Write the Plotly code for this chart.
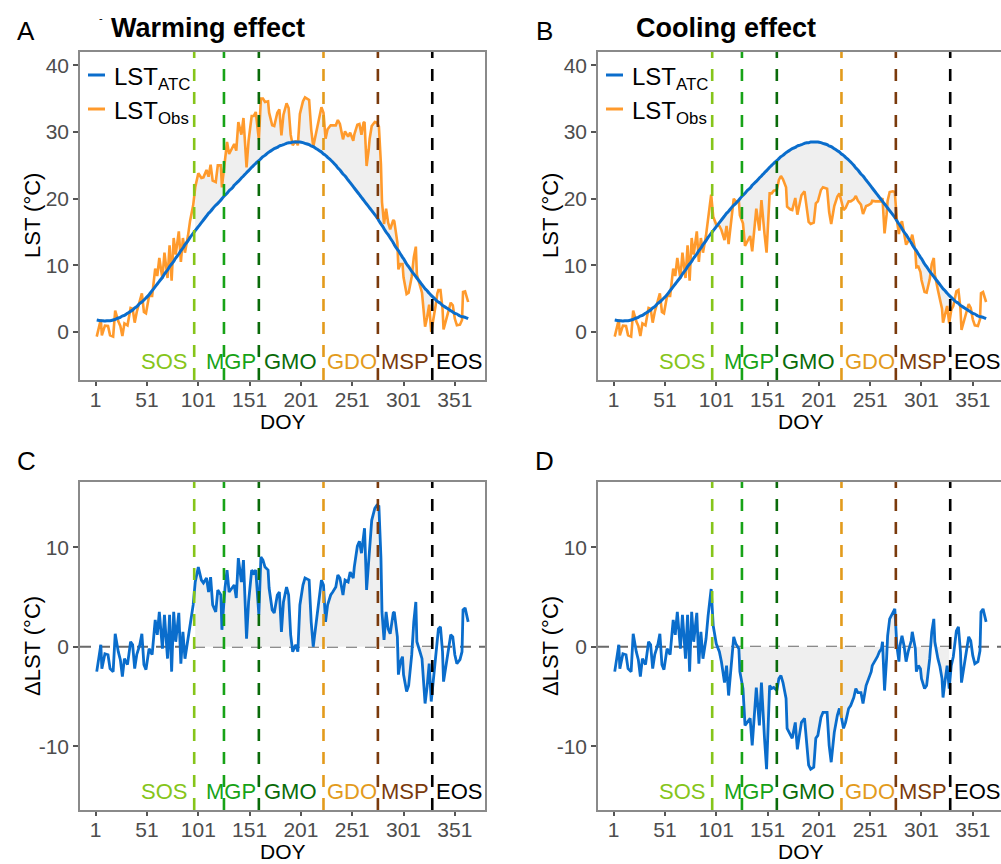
import plotly.graph_objects as go

# ---------------- data ----------------
DOY = [2, 6, 7, 10, 13, 15, 18, 20, 23, 25,
       27, 29, 32, 35, 37, 39, 41, 44, 46, 48,
       50, 53, 56, 59, 61, 63, 66, 68, 71, 73,
       75, 77, 79, 82, 84, 86, 88, 91, 93, 96,
       98, 101, 104, 106, 109, 111, 113, 115, 118, 120,
       123, 124, 127, 129, 131, 134, 136, 138, 140, 143,
       145, 148, 150, 153, 155, 157, 160, 162, 164, 166,
       169, 170, 173, 175, 178, 180, 182, 184, 187, 189,
       191, 193, 196, 198, 200, 203, 205, 209, 211, 213,
       216, 219, 221, 223, 225, 227, 230, 232, 235, 237,
       239, 242, 244, 247, 249, 252, 253, 256, 258, 260,
       262, 263, 265, 267, 268, 270, 273, 275, 277, 279,
       280, 282, 284, 286, 288, 291, 292, 295, 296, 298,
       300, 301, 304, 306, 309, 311, 313, 314, 317, 319,
       321, 322, 324, 326, 328, 330, 332, 334, 335, 337,
       339, 340, 343, 345, 347, 349, 351, 353, 356, 358,
       359, 361, 364]

LST_ATC = [1.8, 1.7, 1.7, 1.65, 1.7, 1.7, 1.8, 1.9, 2.1, 2.2,
           2.4, 2.5, 2.8, 3.1, 3.3, 3.6, 3.8, 4.3, 4.5, 4.8,
           5.1, 5.6, 6.2, 6.8, 7.2, 7.6, 8.2, 8.7, 9.3, 9.8,
           10.2, 10.6, 11.1, 11.7, 12.2, 12.6, 13.1, 13.7, 14.2, 14.8,
           15.2, 15.8, 16.4, 16.8, 17.4, 17.8, 18.1, 18.5, 19.0, 19.3,
           19.8, 20.0, 20.5, 20.8, 21.2, 21.6, 22.0, 22.3, 22.6, 23.1,
           23.4, 23.9, 24.2, 24.7, 25.0, 25.3, 25.7, 26.0, 26.3, 26.5,
           26.9, 27.0, 27.3, 27.5, 27.7, 27.9, 28.0, 28.1, 28.3, 28.4,
           28.4, 28.5, 28.5, 28.5, 28.5, 28.4, 28.3, 28.1, 27.9, 27.8,
           27.5, 27.2, 27.0, 26.7, 26.5, 26.2, 25.8, 25.5, 25.0, 24.6,
           24.3, 23.7, 23.4, 22.8, 22.4, 21.8, 21.6, 21.0, 20.6, 20.2,
           19.8, 19.6, 19.2, 18.8, 18.6, 18.2, 17.6, 17.2, 16.7, 16.2,
           16.0, 15.5, 15.0, 14.6, 14.1, 13.4, 13.1, 12.4, 12.2, 11.7,
           11.2, 11.0, 10.2, 9.8, 9.1, 8.7, 8.3, 8.1, 7.5, 7.1,
           6.7, 6.5, 6.2, 5.8, 5.5, 5.2, 4.9, 4.6, 4.5, 4.3,
           4.0, 3.9, 3.6, 3.4, 3.2, 3.0, 2.8, 2.7, 2.4, 2.3,
           2.3, 2.2, 2.0]

DELTA_WARM = [-2.5, 0.2, -2.2, -0.7, -0.8, -2.2, -2.5, 1.3, -0.5, -1.3,
              -3.0, -1.2, -1.8, 0.5, 0.2, -2.2, -0.8, 0.2, 1.3, -1.8,
              -2.3, -0.2, -0.8, 2.7, 1.2, 3.5, -0.2, 3.2, -1.2, 3.2,
              -2.5, 3.5, 0.5, 3.4, -1.7, 1.5, -1.2, 0.8, 2.5, 4.2,
              6.5, 8.0, 6.7, 6.4, 6.9, 5.5, 7.0, 4.2, 3.5, 5.7,
              5.2, 1.7, 5.9, 7.7, 5.5, 5.9, 6.2, 4.9, 8.9, 6.5,
              8.7, 0.8, 4.5, 7.7, 7.4, 7.7, 3.2, 9.0, 8.7, 8.0,
              7.7, 5.9, 3.7, 3.4, 5.2, 5.5, 1.5, 4.5, 6.0, 5.2,
              1.2, -0.5, 0.2, -0.5, 4.2, 6.2, 6.9, 6.7, 2.5, 0.0,
              2.5, 4.5, 6.7, 6.2, 2.5, 4.2, 5.2, 5.5, 6.0, 7.2,
              6.9, 5.2, 6.7, 6.5, 7.5, 6.9, 8.0, 10.1, 10.6, 9.4,
              11.6, 11.9, 5.7, 8.5, 10.4, 12.7, 13.9, 14.2, 14.1, 8.9,
              3.5, 0.7, 3.5, 1.8, 1.3, 3.4, 3.5, 1.0, -2.8, -1.5,
              -1.0, -2.8, -4.5, -3.9, -0.8, 2.5, 4.5, 0.5, -0.5, -1.2,
              -4.2, -5.7, -4.0, -1.7, -5.5, -3.5, -1.2, 1.2, 1.8, 2.0,
              -0.5, -3.5, -1.5, 0.2, 1.2, 1.0, -0.8, -1.7, -1.3, -0.5,
              3.7, 3.9, 2.5]

DELTA_COOL = [-2.5, 0.2, -2.2, -0.7, -0.8, -2.2, -2.5, 1.3, -0.5, -1.3,
              -3.0, -1.2, -1.8, 0.5, 0.2, -2.2, -0.8, 0.2, 1.3, -1.8,
              -2.3, -0.2, -0.8, 2.7, 1.2, 3.5, -0.2, 3.2, -1.2, 3.2,
              -2.5, 3.5, 0.5, 3.4, -1.7, 1.5, -1.2, 0.8, 3.1, 5.8,
              2.1, 0.3, -0.5, -1.5, -3.6, -1.9, -4.9, -2.5, 1.0, 0.3,
              -0.2, -2.5, -4.2, -7.9, -7.6, -7.2, -9.9, -7.2, -4.1, -7.9,
              -3.6, -9.2, -12.3, -3.9, -4.2, -4.1, -4.4, -3.2, -2.9, -3.6,
              -5.2, -8.2, -8.9, -9.2, -7.6, -10.3, -8.9, -7.6, -7.2, -9.6,
              -11.9, -12.3, -12.1, -9.2, -8.9, -7.1, -6.6, -6.6, -9.9, -11.6,
              -8.6, -6.9, -6.2, -7.1, -8.2, -7.6, -6.2, -5.9, -5.1, -4.2,
              -4.6, -4.6, -5.7, -3.9, -3.4, -2.5, -1.9, -1.4, -1.0, -0.5,
              -0.2, 0.5, -4.4, -1.2, 1.1, 2.8, 3.5, 3.8, 0.1, -1.5,
              0.1, 1.1, 0.1, -1.5, -0.5, 0.6, 1.5, -0.2, -2.5, -1.9,
              -2.2, -3.2, -4.2, -3.9, -1.2, 1.5, 2.8, 0.5, -1.2, -2.0,
              -3.2, -5.1, -3.4, -1.9, -4.2, -1.9, -1.0, 0.8, 1.6, 2.0,
              -0.5, -3.6, -1.5, -0.2, 1.0, 0.6, -0.9, -1.7, -1.5, -0.4,
              3.5, 3.8, 2.5]

PHENO_NAMES = ["SOS", "MGP", "GMO", "GDO", "MSP", "EOS"]
PHENO_DOY = [97, 126, 160, 223, 276, 329]

X_TICKS = [1, 51, 101, 151, 201, 251, 301, 351]
Y_TICKS_LST = [0, 10, 20, 30, 40]
Y_TICKS_DELTA = [-10, 0, 10]

# ---------------- styles ----------------
PHENO_COLORS = ["#86C51A", "#17A317", "#0A6B0A", "#E39B1C", "#7A3A0C", "#000000"]
# right edge of each phenology label, in pixels from the panel's left frame
LABEL_RIGHT_PX = [109, 178, 239, 299, 351, 404]
BLUE = "#0A6DCC"
ORANGE = "#FF9A2C"
FILLC = "#EFEFEF"
FONT = "Liberation Sans, Arial, sans-serif"
W, H = 1001, 864


def pxx(x):
    return x / W


def pxy(y):
    return 1 - y / H


OBS_WARM = [a + d for a, d in zip(LST_ATC, DELTA_WARM)]
OBS_COOL = [a + d for a, d in zip(LST_ATC, DELTA_COOL)]
SEL = [i for i, d in enumerate(DOY) if PHENO_DOY[0] <= d <= PHENO_DOY[-1]]

panels = [
    dict(name="A", ax="", xdom=(80, 485), ydom=(52, 380), kind="lst", obs=OBS_WARM,
         xr=(-14.3, 380.4), title="Warming effect", doy_y=421),
    dict(name="B", ax="2", xdom=(598, 1001), ydom=(52, 380), kind="lst", obs=OBS_COOL,
         xr=(-14.3, 378.5), title="Cooling effect", doy_y=421),
    dict(name="C", ax="3", xdom=(80, 485), ydom=(482, 810), kind="delta", d=DELTA_WARM,
         xr=(-14.3, 380.4), doy_y=851.5),
    dict(name="D", ax="4", xdom=(598, 1001), ydom=(482, 810), kind="delta", d=DELTA_COOL,
         xr=(-14.3, 378.5), doy_y=851.5),
]

fig = go.Figure()
shapes = []
annotations = []
layout = dict(width=W, height=H, autosize=False,
              margin=dict(l=0, r=0, t=0, b=0),
              paper_bgcolor="white", plot_bgcolor="white",
              showlegend=False, font=dict(family=FONT))

for p in panels:
    ax = p["ax"]
    xref, yref = "x" + ax, "y" + ax
    right_open = p["xdom"][1] >= W
    xaxis = dict(domain=[pxx(p["xdom"][0]), pxx(p["xdom"][1])], range=list(p["xr"]),
                 anchor=yref, tickmode="array", tickvals=X_TICKS,
                 ticktext=[str(t) for t in X_TICKS],
                 showline=True, mirror=True, linecolor="#8A8A8A", linewidth=1.5,
                 ticks="outside", ticklen=4, tickwidth=1.5, tickcolor="#555555",
                 ticklabelstandoff=-4,
                 tickfont=dict(size=21, color="#4D4D4D", family=FONT),
                 showgrid=False, zeroline=False)
    yaxis = dict(domain=[pxy(p["ydom"][1]), pxy(p["ydom"][0])], anchor=xref,
                 showline=True, mirror=not right_open, linecolor="#8A8A8A", linewidth=1.5,
                 ticks="outside", ticklen=5, tickwidth=1.5, tickcolor="#555555",
                 tickfont=dict(size=21, color="#4D4D4D", family=FONT),
                 showgrid=False, zeroline=False, tickmode="array")
    if p["kind"] == "lst":
        yaxis["range"] = [-7.2, 42.0]
        yaxis["tickvals"] = Y_TICKS_LST
        yaxis["ticktext"] = [str(t) for t in Y_TICKS_LST]
        label_py = 361
        obs = p["obs"]
        # shaded area between ATC and observation (SOS..EOS)
        fig.add_trace(go.Scatter(x=[DOY[i] for i in SEL], y=[LST_ATC[i] for i in SEL],
                                 mode="lines", line=dict(width=0, color=FILLC),
                                 hoverinfo="skip", xaxis=xref, yaxis=yref))
        fig.add_trace(go.Scatter(x=[DOY[i] for i in SEL], y=[obs[i] for i in SEL],
                                 mode="lines", line=dict(width=0, color=FILLC),
                                 fill="tonexty", fillcolor=FILLC,
                                 hoverinfo="skip", xaxis=xref, yaxis=yref))
        fig.add_trace(go.Scatter(x=DOY, y=obs, mode="lines", name="LST_Obs",
                                 line=dict(color=ORANGE, width=2.6),
                                 xaxis=xref, yaxis=yref))
        fig.add_trace(go.Scatter(x=DOY, y=LST_ATC, mode="lines", name="LST_ATC",
                                 line=dict(color=BLUE, width=3, shape="spline"),
                                 xaxis=xref, yaxis=yref))
        # manual legend
        ox = p["xdom"][0] - 80
        for yy, col, txt in [(75, BLUE, "LST<sub>ATC</sub>"), (109, ORANGE, "LST<sub>Obs</sub>")]:
            shapes.append(dict(type="line", xref="paper", yref="paper",
                               x0=pxx(ox + 88), x1=pxx(ox + 105), y0=pxy(yy), y1=pxy(yy),
                               line=dict(color=col, width=3)))
            annotations.append(dict(xref="paper", yref="paper", x=pxx(ox + 112), y=pxy(yy + 3),
                                    text=txt, showarrow=False, xanchor="left", yanchor="middle",
                                    font=dict(size=24, color="black", family=FONT)))
        # title
        annotations.append(dict(xref="paper", yref="paper",
                                x=pxx(ox + 208), y=pxy(28), text="<b>" + p["title"] + "</b>",
                                showarrow=False, xanchor="center", yanchor="middle",
                                font=dict(size=27, color="black", family=FONT)))
        ytitle = "LST (°C)"
    else:
        yaxis["range"] = [-16.4, 16.55]
        yaxis["tickvals"] = Y_TICKS_DELTA
        yaxis["ticktext"] = [str(t) for t in Y_TICKS_DELTA]
        label_py = 791
        dd = p["d"]
        fig.add_trace(go.Scatter(x=[DOY[i] for i in SEL], y=[0 for _ in SEL],
                                 mode="lines", line=dict(width=0, color=FILLC),
                                 hoverinfo="skip", xaxis=xref, yaxis=yref))
        fig.add_trace(go.Scatter(x=[DOY[i] for i in SEL], y=[dd[i] for i in SEL],
                                 mode="lines", line=dict(width=0, color=FILLC),
                                 fill="tonexty", fillcolor=FILLC,
                                 hoverinfo="skip", xaxis=xref, yaxis=yref))
        shapes.append(dict(type="line", xref=xref + " domain", yref=yref,
                           x0=0, x1=1, y0=0, y1=0, layer="below",
                           line=dict(color="#6A6A6A", width=2.2, dash="11px,8px")))
        fig.add_trace(go.Scatter(x=DOY, y=dd, mode="lines",
                                 line=dict(color=BLUE, width=2.8),
                                 xaxis=xref, yaxis=yref))
        ytitle = "ΔLST (°C)"

    # phenology dashed lines and labels
    for name, d, col, rpx in zip(PHENO_NAMES, PHENO_DOY, PHENO_COLORS, LABEL_RIGHT_PX):
        shapes.append(dict(type="line", xref=xref, yref=yref + " domain",
                           x0=d, x1=d, y0=0, y1=1, layer="above",
                           line=dict(color=col, width=2.6, dash="12px,11px")))
        annotations.append(dict(xref="paper", yref="paper", x=pxx(p["xdom"][0] + rpx),
                                y=pxy(label_py), text=name,
                                showarrow=False, xanchor="right", yanchor="middle",
                                font=dict(size=22, color=col, family=FONT)))

    ox = p["xdom"][0] - 80
    oy = p["ydom"][0] - 52
    # axis titles
    annotations.append(dict(xref="paper", yref="paper", x=pxx(ox + 32),
                            y=pxy((p["ydom"][0] + p["ydom"][1]) / 2), text=ytitle,
                            textangle=-90, showarrow=False, xanchor="center", yanchor="middle",
                            font=dict(size=22, color="black", family=FONT)))
    annotations.append(dict(xref="paper", yref="paper", x=pxx(ox + 283), y=pxy(p["doy_y"]),
                            text="DOY", showarrow=False, xanchor="center", yanchor="middle",
                            font=dict(size=21, color="black", family=FONT)))
    # panel letter
    annotations.append(dict(xref="paper", yref="paper", x=pxx(ox + 26), y=pxy(oy + 31),
                            text=p["name"], showarrow=False, xanchor="center", yanchor="middle",
                            font=dict(size=26, color="black", family=FONT)))

    layout["xaxis" + ax] = xaxis
    layout["yaxis" + ax] = yaxis

annotations.append(dict(xref="paper", yref="paper", x=pxx(101), y=pxy(18), text="-",
                        showarrow=False, xanchor="center", yanchor="middle",
                        font=dict(size=11, color="black", family=FONT)))

layout["shapes"] = shapes
layout["annotations"] = annotations
fig.update_layout(**layout)
fig.write_html("out.html", config={"displayModeBar": False},
               post_script="document.body.style.margin='0px';document.body.style.overflow='hidden';")
